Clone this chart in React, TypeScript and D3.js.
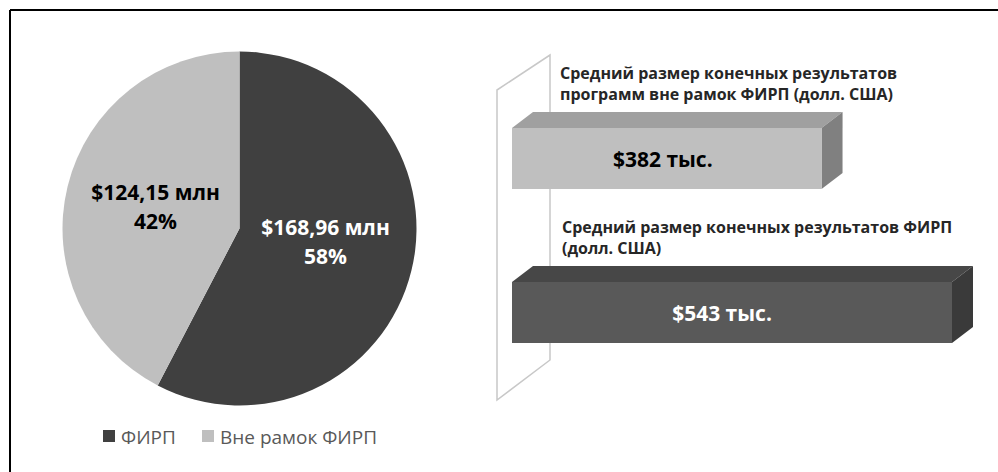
import React from "react";
import * as d3 from "d3";

const pieLabels = ["ФИРП", "Вне рамок ФИРП"];
const pieValues = [168.96, 124.15];
const piePercents = ["58%", "42%"];
const pieValueText = ["$168,96 млн", "$124,15 млн"];
const pieColors = ["#404040", "#bfbfbf"];
const pieTextColors = ["#ffffff", "#000000"];

const barCategories = [
  ["Средний размер конечных результатов", "программ вне рамок ФИРП (долл. США)"],
  ["Средний размер конечных результатов ФИРП", "(долл. США)"],
];
const barValues = [382, 543];
const barValueText = ["$382 тыс.", "$543 тыс."];
const barFront = ["#bfbfbf", "#595959"];
const barTop = ["#a0a0a0", "#474747"];
const barSide = ["#808080", "#3a3a3a"];
const barTextColors = ["#000000", "#ffffff"];

const FONT = "'Open Sans', sans-serif";

export default function App() {
  const W = 998, H = 472;
  const cx = 239.5, cy = 228.5, r = 177;
  const pie = d3.pie<number>().sort(null).startAngle(0).endAngle(2 * Math.PI);
  const arcs = pie(pieValues);
  const arc = d3.arc<d3.PieArcDatum<number>>().innerRadius(0).outerRadius(r);

  const x = d3.scaleLinear().domain([0, 543]).range([512, 952]);
  const y = d3.scalePoint<number>().domain([0, 1]).range([158.5, 312.5]);
  const bh = 61;
  const dx = 21, dy = -16;

  const pieLabelPos = [
    [86, 6],
    [-84, -29],
  ];

  return (
    <svg width={W} height={H} style={{ position: "absolute", left: 0, top: 0 }}>
      <rect x={0} y={0} width={W} height={H} fill="#ffffff" />
      <line x1={10} y1={10} x2={W} y2={10} stroke="#000" strokeWidth={2} />
      <line x1={10} y1={10} x2={10} y2={H} stroke="#000" strokeWidth={2} />

      {/* pie */}
      <g transform={`translate(${cx},${cy})`}>
        {arcs.map((a, i) => (
          <path key={i} d={arc(a) || ""} fill={pieColors[i]} />
        ))}
        {arcs.map((a, i) => {
          const [lx, ly] = pieLabelPos[i];
          return (
            <g key={"l" + i} fontFamily={FONT} fontWeight="bold" fontSize={21} fill={pieTextColors[i]} textAnchor="middle">
              <text x={lx} y={ly}>{pieValueText[i]}</text>
              <text x={lx} y={ly + 29}>{piePercents[i]}</text>
            </g>
          );
        })}
      </g>

      {/* legend */}
      <g fontFamily={FONT} fontSize={19} fill="#595959">
        <rect x={103} y={430} width={12} height={12} fill={pieColors[0]} />
        <text x={121} y={444}>{pieLabels[0]}</text>
        <rect x={202} y={430} width={12} height={12} fill={pieColors[1]} />
        <text x={220} y={444}>{pieLabels[1]}</text>
      </g>

      {/* wall */}
      <polygon points="497,90 550,55 550,360 497,400" fill="none" stroke="#c8c8c8" strokeWidth={1.5} />

      {/* bars */}
      {barValues.map((v, i) => {
        const x0 = x(0), x1 = x(v);
        const yc = y(i)!;
        const y0 = yc - bh / 2, y1 = yc + bh / 2;
        return (
          <g key={i}>
            <polygon points={`${x0},${y0} ${x0 + dx},${y0 + dy} ${x1 + dx},${y0 + dy} ${x1},${y0}`} fill={barTop[i]} />
            <polygon points={`${x1},${y0} ${x1 + dx},${y0 + dy} ${x1 + dx},${y1 + dy} ${x1},${y1}`} fill={barSide[i]} />
            <rect x={x0} y={y0} width={x1 - x0} height={bh} fill={barFront[i]} />
            <text x={(x0 + x1) / 2 - (i === 1 ? 10 : 4)} y={yc + 8} textAnchor="middle" fontFamily={FONT} fontWeight="bold" fontSize={21} fill={barTextColors[i]}>
              {barValueText[i]}
            </text>
            <g fontFamily={FONT} fontWeight="bold" fontSize={16} fill="#262626">
              {barCategories[i].map((line, j) => (
                <text key={j} x={i === 0 ? 560 : 562} y={yc - 79.5 + j * 21}>{line}</text>
              ))}
            </g>
          </g>
        );
      })}
    </svg>
  );
}
